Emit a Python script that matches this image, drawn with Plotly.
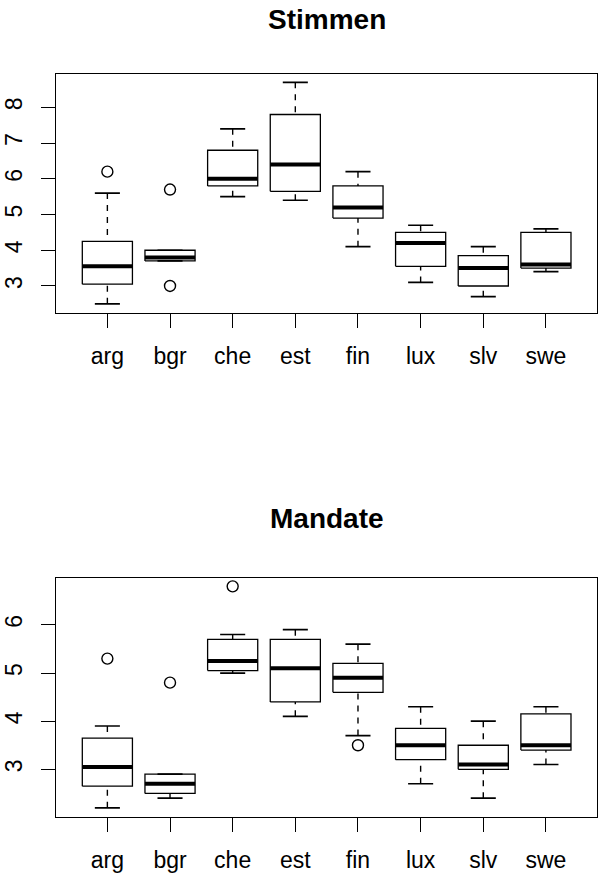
import plotly.graph_objects as go

# ---------------- data ----------------
categories = ["arg", "bgr", "che", "est", "fin", "lux", "slv", "swe"]

# Panel 1: Stimmen
st_lower = [2.5, 3.7, 5.5, 5.4, 4.1, 3.1, 2.7, 3.4]
st_q1 = [3.05, 3.7, 5.8, 5.65, 4.9, 3.55, 3.0, 3.5]
st_median = [3.55, 3.8, 6.0, 6.4, 5.2, 4.2, 3.5, 3.6]
st_q3 = [4.25, 4.0, 6.8, 7.8, 5.8, 4.5, 3.85, 4.5]
st_upper = [5.6, 4.0, 7.4, 8.7, 6.2, 4.7, 4.1, 4.6]
st_out_cat = ["arg", "bgr", "bgr"]
st_out_val = [6.2, 5.7, 3.0]

# Panel 2: Mandate
md_lower = [2.2, 2.4, 5.0, 4.1, 3.7, 2.7, 2.4, 3.1]
md_q1 = [2.65, 2.5, 5.05, 4.4, 4.6, 3.2, 3.0, 3.4]
md_median = [3.05, 2.7, 5.25, 5.1, 4.9, 3.5, 3.1, 3.5]
md_q3 = [3.65, 2.9, 5.7, 5.7, 5.2, 3.85, 3.5, 4.15]
md_upper = [3.9, 2.9, 5.8, 5.9, 5.6, 4.3, 4.0, 4.3]
md_out_cat = ["arg", "bgr", "che", "fin"]
md_out_val = [5.3, 4.8, 6.8, 3.5]

titles = ["Stimmen", "Mandate"]

# ---------------- styling ----------------
W, H = 599, 876
FONT = "Liberation Sans, Arial, Helvetica, sans-serif"
BOX_HALF = 0.4
CAP_HALF = 0.2

fig = go.Figure()


def add_panel(idx, lower, q1, med, q3, upper, out_cat, out_val):
    xa = "x" if idx == 1 else "x%d" % idx
    ya = "y" if idx == 1 else "y%d" % idx
    pos = list(range(1, len(categories) + 1))
    bx, by, mx, my, wx, wy, cx, cy = [], [], [], [], [], [], [], []
    for p, lo, a, m, b, hi in zip(pos, lower, q1, med, q3, upper):
        bx += [p - BOX_HALF, p + BOX_HALF, p + BOX_HALF, p - BOX_HALF, p - BOX_HALF, None]
        by += [a, a, b, b, a, None]
        mx += [p - BOX_HALF, p + BOX_HALF, None]
        my += [m, m, None]
        # whiskers drawn from whisker end toward the box
        wx += [p, p, None, p, p, None]
        wy += [lo, a, None, hi, b, None]
        cx += [p - CAP_HALF, p + CAP_HALF, None, p - CAP_HALF, p + CAP_HALF, None]
        cy += [lo, lo, None, hi, hi, None]
    common = dict(xaxis=xa, yaxis=ya, mode="lines", showlegend=False, hoverinfo="skip")
    fig.add_trace(go.Scatter(x=wx, y=wy, line=dict(color="black", width=1.4, dash="6px,6px"), **common))
    fig.add_trace(go.Scatter(x=cx, y=cy, line=dict(color="black", width=1.7), **common))
    fig.add_trace(go.Scatter(x=bx, y=by, line=dict(color="black", width=1.3), **common))
    fig.add_trace(go.Scatter(x=mx, y=my, line=dict(color="black", width=4), **common))
    ox = [categories.index(c) + 1 for c in out_cat]
    fig.add_trace(go.Scatter(
        x=ox, y=out_val, mode="markers", xaxis=xa, yaxis=ya, showlegend=False,
        marker=dict(symbol="circle-open", size=11, color="black", line=dict(width=1.4)),
    ))
    vals = lower + upper + out_val
    lo_v, hi_v = min(vals), max(vals)
    pad = 0.04 * (hi_v - lo_v)
    return [lo_v - pad, hi_v + pad]


yr1 = add_panel(1, st_lower, st_q1, st_median, st_q3, st_upper, st_out_cat, st_out_val)
yr2 = add_panel(2, md_lower, md_q1, md_median, md_q3, md_upper, md_out_cat, md_out_val)

n = len(categories)
xpad = 0.04 * n
xrange_ = [0.5 - xpad, n + 0.5 + xpad]

x_dom = [56 / W, 597.3 / W]
y_dom1 = [1 - 312.7 / H, 1 - 73.5 / H]
y_dom2 = [1 - 816.7 / H, 1 - 577.5 / H]

xaxis_common = dict(
    range=xrange_, tickmode="array", tickvals=list(range(1, n + 1)), ticktext=categories,
    showgrid=False, zeroline=False, showline=True, mirror=True, linecolor="black", linewidth=1.4,
    ticks="outside", ticklen=14, tickwidth=1.3, tickcolor="black", ticklabelstandoff=8,
    tickfont=dict(family=FONT, size=23, color="black"), domain=x_dom, automargin=False,
)
yaxis_common = dict(
    tickmode="linear", tick0=0, dtick=1,
    showgrid=False, zeroline=False, showline=True, mirror=True, linecolor="black", linewidth=1.4,
    ticks="outside", ticklen=14, tickwidth=1.3, tickcolor="black", tickangle=-90,
    ticklabelstandoff=10, automargin=False,
    tickfont=dict(family=FONT, size=23, color="black"),
)

fig.update_layout(
    width=W, height=H, margin=dict(l=0, r=0, t=0, b=0),
    paper_bgcolor="white", plot_bgcolor="white",
    xaxis=dict(anchor="y", **xaxis_common),
    yaxis=dict(anchor="x", domain=y_dom1, range=yr1, **yaxis_common),
    xaxis2=dict(anchor="y2", **xaxis_common),
    yaxis2=dict(anchor="x2", domain=y_dom2, range=yr2, **yaxis_common),
    annotations=[
        dict(text="<b>%s</b>" % titles[0], x=(x_dom[0] + x_dom[1]) / 2, y=1 - 19 / H,
             xref="paper", yref="paper", xanchor="center", yanchor="middle", showarrow=False,
             font=dict(family=FONT, size=28, color="black")),
        dict(text="<b>%s</b>" % titles[1], x=(x_dom[0] + x_dom[1]) / 2, y=1 - 518 / H,
             xref="paper", yref="paper", xanchor="center", yanchor="middle", showarrow=False,
             font=dict(family=FONT, size=28, color="black")),
    ],
)

fig.write_html("out.html")
